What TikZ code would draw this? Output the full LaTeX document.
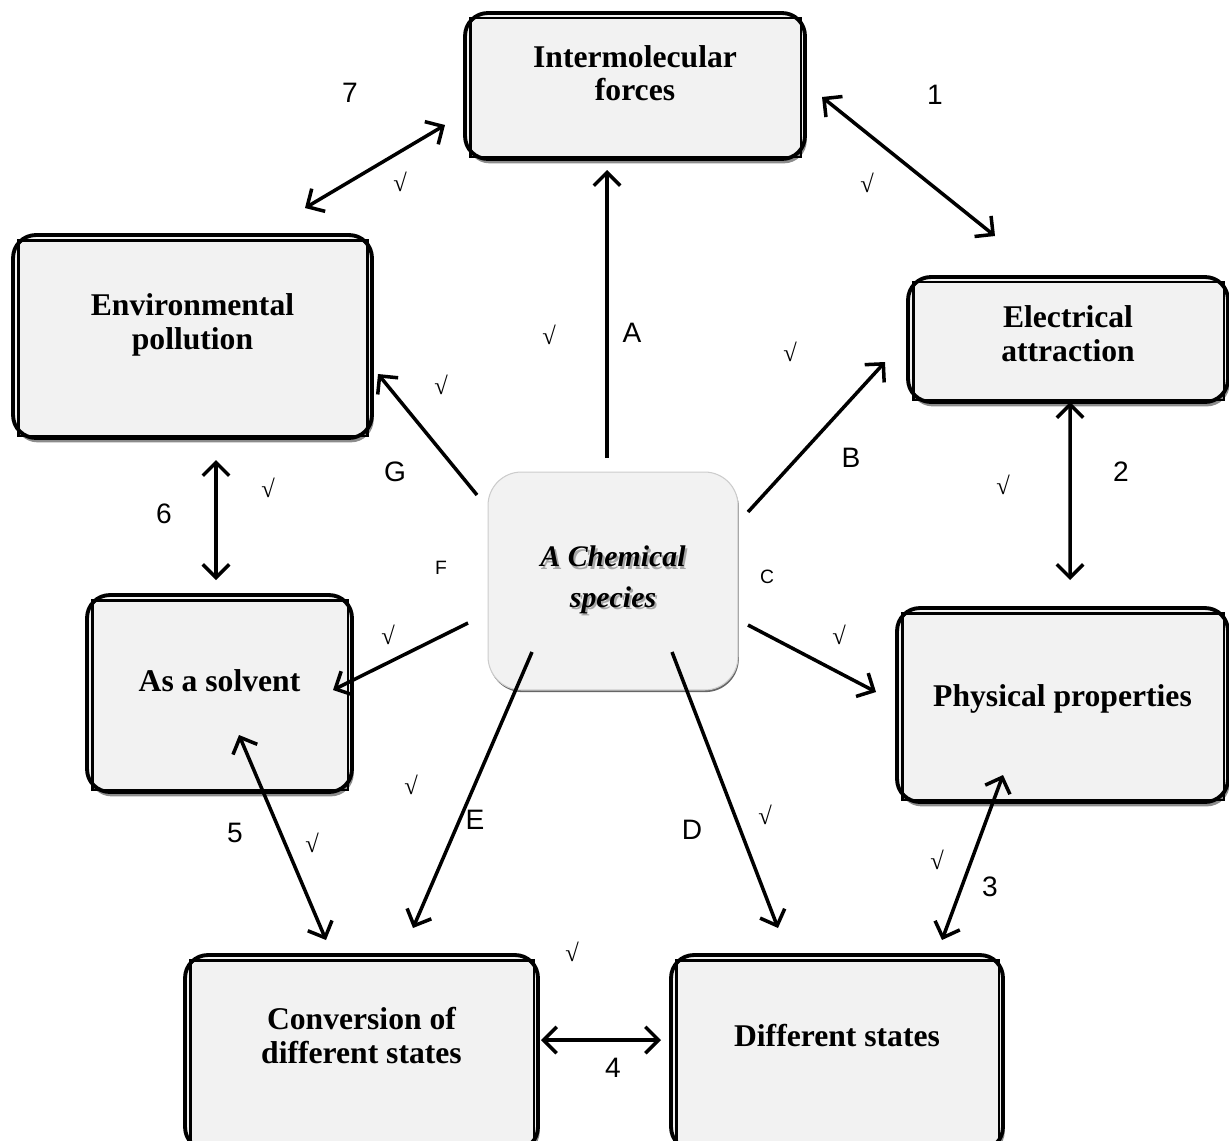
\documentclass[tikz,border=0pt]{standalone}
\usepackage{fontspec}
\setmainfont{Liberation Serif}
\newfontfamily\labelfont{Liberation Sans}
\usepackage{tikz}
\usetikzlibrary{arrows.meta,shadows}
\definecolor{BoxGray}{HTML}{F2F2F2}

\newcommand{\shadowtext}[1]{\makebox[0pt][l]{\textcolor{black!35}{\hspace{1.2pt}\raisebox{-1.2pt}{#1}}}#1}

\begin{document}
\begin{tikzpicture}[x=0.02cm,y=-0.02cm,
    >={Straight Barb[length=7.5pt,width=15pt]},
    conbox/.style={draw,line width=2.2pt,rounded corners=13pt,fill=BoxGray,
      align=center,font=\bfseries\fontsize{18}{19}\selectfont,
      drop shadow={shadow xshift=1pt,shadow yshift=-2.5pt,fill=black!45,opacity=1}},
    lift/.style={text depth=#1},
    arr/.style={line width=2pt,->},
    darr/.style={line width=2pt,<->},
    lbl/.style={font=\labelfont\fontsize{16}{16}\selectfont},
    tick/.style={font=\fontsize{14}{14}\selectfont}]
    \useasboundingbox (0,0) rectangle (1229,1140);
    \clip (0,0) rectangle (1229,1140);

    % the seven topics round the centre
    \node[conbox,minimum width=6.8cm,minimum height=2.92cm,lift=0.52cm] (inter) at (635,86) {Intermolecular\\forces};
    \node[conbox,minimum width=7.18cm,minimum height=4.06cm,lift=0.6cm] (env) at (192.5,336.5) {Environmental\\pollution};
    \node[conbox,minimum width=6.4cm,minimum height=2.5cm,lift=0.24cm] (elec) at (1068,339.5) {Electrical\\attraction};
    \node[conbox,minimum width=5.3cm,minimum height=3.94cm,lift=0.52cm] (solv) at (219.5,693.5) {As a solvent};
    \node[conbox,minimum width=6.62cm,minimum height=3.88cm,lift=0.36cm] (phys) at (1062.5,705) {Physical properties};
    \node[conbox,minimum width=7.06cm,minimum height=3.9cm,lift=0.68cm] (conv) at (361.5,1052.5) {Conversion of\\different states};
    \node[conbox,minimum width=6.64cm,minimum height=3.9cm,lift=0.68cm] (diff) at (837,1052.5) {Different states};

    \foreach \n in {inter,env,elec,solv,phys,conv,diff} {
     \draw[line width=1.6pt] ([shift={(7,7)}]\n.north west) rectangle ([shift={(-6,-4)}]\n.south east);
    }

    % centre
    \node[draw=black!20,line width=0.6pt,rounded corners=19pt,fill=BoxGray,
      minimum width=5cm,minimum height=4.36cm,align=center,
      font=\bfseries\itshape\fontsize{17}{23}\selectfont,
      drop shadow={shadow xshift=0.5pt,shadow yshift=-1.2pt,fill=black!60,opacity=1}]
      (ctr) at (613,581) {\shadowtext{A Chemical}\\\shadowtext{species}};

    % arrows out of the centre
    \draw[arr] ([shift={(-6,-123)}]ctr.center) -- ([shift={(-28,84)}]inter.center);
    \draw[arr] ([shift={(135,-69)}]ctr.center) -- ([shift={(-183,22.5)}]elec.center);
    \draw[arr] ([shift={(135,44)}]ctr.center) -- ([shift={(-186.5,-13)}]phys.center);
    \draw[arr] ([shift={(59,71)}]ctr.center) -- ([shift={(-59,-124.5)}]diff.center);
    \draw[arr] ([shift={(-81,71)}]ctr.center) -- ([shift={(51.5,-124.5)}]conv.center);
    \draw[arr] ([shift={(-145,42)}]ctr.center) -- ([shift={(113.5,-3.5)}]solv.center);
    \draw[arr] ([shift={(-136,-86)}]ctr.center) -- ([shift={(185.5,37.5)}]env.center);

    % links round the ring
    \draw[darr] ([shift={(187,11)}]inter.center) -- ([shift={(-73,-103.5)}]elec.center);
    \draw[darr] ([shift={(2,62.5)}]elec.center) -- ([shift={(7.5,-125)}]phys.center);
    \draw[darr] ([shift={(-59.5,70)}]phys.center) -- ([shift={(105,-112.5)}]diff.center);
    \draw[darr] ([shift={(179.5,-12.5)}]conv.center) -- ([shift={(-176,-12.5)}]diff.center);
    \draw[darr] ([shift={(19.5,41.5)}]solv.center) -- ([shift={(-35.5,-112.5)}]conv.center);
    \draw[darr] ([shift={(23.5,123.5)}]env.center) -- ([shift={(-3.5,-113.5)}]solv.center);
    \draw[darr] ([shift={(-190,39)}]inter.center) -- ([shift={(112.5,-128.5)}]env.center);

    % letters and numbers
    \foreach \t/\x/\y in {A/632/333,B/851/458,D/692/830,E/475/820,G/395/472,
      1/935/95,2/1121/472,3/990/887,4/613/1068,5/235/833,6/164/514,7/350/93} {
     \node[lbl] (l\t) at (\x,\y) {\t};
    }
    \node[lbl,font=\labelfont\fontsize{11}{11}\selectfont] (lF) at (441,568) {F};
    \node[lbl,font=\labelfont\fontsize{11}{11}\selectfont] (lC) at (767,577) {C};

    % ticks
    \foreach \x/\y [count=\i] in {400/182,867/183,549/335,790/352,441/385,1003/485,268/488,
      388/635,839/635,411/785,765/815,312/843,937/860,572/952} {
     \node[tick] (ck\i) at (\x,\y) {√};
    }
\end{tikzpicture}
\end{document}
